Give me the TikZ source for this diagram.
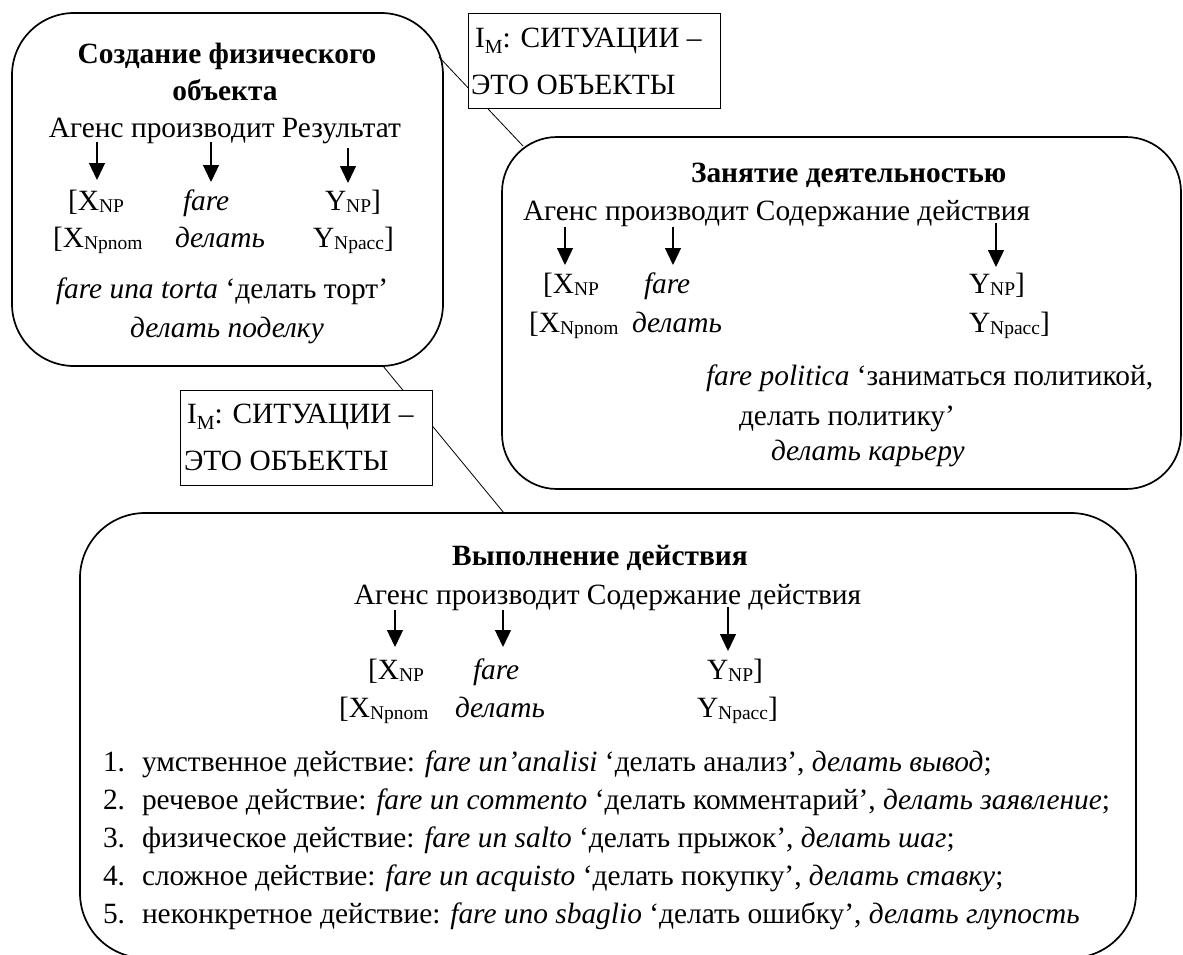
\documentclass[tikz,border=0pt]{standalone}
\usepackage{fontspec}
\setmainfont{Liberation Serif}
\usetikzlibrary{arrows.meta}
\newcommand\sbs[1]{\raisebox{-0.07em}{\fontsize{19.5}{19.5}\selectfont #1}}
\newcommand\sbm[1]{\raisebox{-0.22em}{\fontsize{20}{20}\selectfont #1}}
\begin{document}
\begin{tikzpicture}[x=1pt,y=-1pt,
  every node/.style={inner sep=0pt, outer sep=0pt, font=\fontsize{29.4}{34}\selectfont},
  bigbox/.style={draw, line width=1.7pt, rounded corners=#1, anchor=north west},
  callout/.style={draw, line width=0.8pt, fill=white, anchor=north west},
  txt/.style={anchor=base west},
  ctxt/.style={anchor=base},
  arr/.style={-{Triangle[width=16pt,length=17pt]}, line width=1.3pt},
  link/.style={line width=0.8pt}]
\useasboundingbox (0,0) rectangle (1183,954);
\clip (0,0) rectangle (1183,954);
% big boxes
\node[bigbox=62pt, minimum width=431pt, minimum height=353pt] (b1) at (12,13) {};
\node[bigbox=55pt, minimum width=679pt, minimum height=352pt] (b2) at (502,137) {};
\node[bigbox=65pt, minimum width=1056pt, minimum height=445pt] (b3) at (80,513) {};
% connectors
\coordinate (la1) at (439,57);
\coordinate (la2) at (523,146);
\coordinate (lb1) at (383,366);
\coordinate (lb2) at (504,513);
\draw[link] (la1) -- (la2);
\draw[link] (lb1) -- (lb2);
% callouts
\node[callout, minimum width=252pt, minimum height=95pt] (c1) at (468,13) {};
\node[txt] (c1t1) at (475,47) {I\sbm{M}: СИТУАЦИИ –};
\node[txt] (c1t2) at (471,94) {ЭТО ОБЪЕКТЫ};
\node[callout, minimum width=252pt, minimum height=95pt] (c2) at (180,390) {};
\node[txt] (c2t1) at (187,423) {I\sbm{M}: СИТУАЦИИ –};
\node[txt] (c2t2) at (184,470) {ЭТО ОБЪЕКТЫ};
% box 1
\node[ctxt] (t1a) at (227,63) {\textbf{Создание физического}};
\node[ctxt] (t1b) at (225,100) {\textbf{объекта}};
\node[ctxt] (s1) at (225,137) {Агенс производит Результат};
\coordinate (a11s) at (97,142);  \coordinate (a11e) at (97,180);
\coordinate (a12s) at (211,142); \coordinate (a12e) at (211,182);
\coordinate (a13s) at (348,148); \coordinate (a13e) at (348,183);
\draw[arr] (a11s) -- (a11e);
\draw[arr] (a12s) -- (a12e);
\draw[arr] (a13s) -- (a13e);
\node[txt] (x1) at (68,210) {[X\sbs{NP}};
\node[txt] (f1) at (183,210) {\textit{fare}};
\node[txt] (y1) at (325,210) {Y\sbs{NP}]};
\node[txt] (x1b) at (53,247) {[X\sbs{Npnom}};
\node[txt] (f1b) at (175,247) {\textit{делать}};
\node[txt] (y1b) at (313,247) {Y\sbs{Npacc}]};
\node[ctxt] (e1a) at (222,298) {\textit{fare una torta} ‘делать торт’};
\node[ctxt] (e1b) at (227,337) {\textit{делать поделку}};
% box 2
\node[txt] (t2) at (691,182) {\textbf{Занятие деятельностью}};
\node[txt] (s2) at (523,220) {Агенс производит Содержание действия};
\coordinate (a21s) at (565,227); \coordinate (a21e) at (565,265);
\coordinate (a22s) at (673,227); \coordinate (a22e) at (673,265);
\coordinate (a23s) at (996,223); \coordinate (a23e) at (996,267);
\draw[arr] (a21s) -- (a21e);
\draw[arr] (a22s) -- (a22e);
\draw[arr] (a23s) -- (a23e);
\node[txt] (x2) at (543,293) {[X\sbs{NP}};
\node[txt] (f2) at (644,293) {\textit{fare}};
\node[txt] (y2) at (969,293) {Y\sbs{NP}]};
\node[txt] (x2b) at (529,332) {[X\sbs{Npnom}};
\node[txt] (f2b) at (632,332) {\textit{делать}};
\node[txt] (y2b) at (969,332) {Y\sbs{Npacc}]};
\node[txt] (e2a) at (706,385) {\textit{fare politica} ‘заниматься политикой,};
\node[txt] (e2b) at (739,425) {делать политику’};
\node[txt] (e2c) at (771,460) {\textit{делать карьеру}};
% box 3
\node[ctxt] (t3) at (600,565) {\textbf{Выполнение действия}};
\node[txt] (s3) at (354,604) {Агенс производит Содержание действия};
\coordinate (a31s) at (395,610); \coordinate (a31e) at (395,647);
\coordinate (a32s) at (503,610); \coordinate (a32e) at (503,647);
\coordinate (a33s) at (728,607); \coordinate (a33e) at (728,651);
\draw[arr] (a31s) -- (a31e);
\draw[arr] (a32s) -- (a32e);
\draw[arr] (a33s) -- (a33e);
\node[txt] (x3) at (368,679) {[X\sbs{NP}};
\node[txt] (f3) at (473,679) {\textit{fare}};
\node[txt] (y3) at (707,679) {Y\sbs{NP}]};
\node[txt] (x3b) at (339,717) {[X\sbs{Npnom}};
\node[txt] (f3b) at (455,717) {\textit{делать}};
\node[txt] (y3b) at (697,717) {Y\sbs{Npacc}]};
\node[txt] (n1) at (103,771) {1.};
\node[txt] (l1) at (142,771) {умственное действие: \textit{fare un’analisi} ‘делать анализ’, \textit{делать вывод};};
\node[txt] (n2) at (103,809) {2.};
\node[txt] (l2) at (142,809) {речевое действие: \textit{fare un commento} ‘делать комментарий’, \textit{делать заявление};};
\node[txt] (n3) at (103,847) {3.};
\node[txt] (l3) at (142,847) {физическое действие: \textit{fare un salto} ‘делать прыжок’, \textit{делать шаг};};
\node[txt] (n4) at (103,885) {4.};
\node[txt] (l4) at (142,885) {сложное действие: \textit{fare un acquisto} ‘делать покупку’, \textit{делать ставку};};
\node[txt] (n5) at (103,923) {5.};
\node[txt] (l5) at (142,923) {неконкретное действие: \textit{fare uno sbaglio} ‘делать ошибку’, \textit{делать глупость}};
\end{tikzpicture}
\end{document}
